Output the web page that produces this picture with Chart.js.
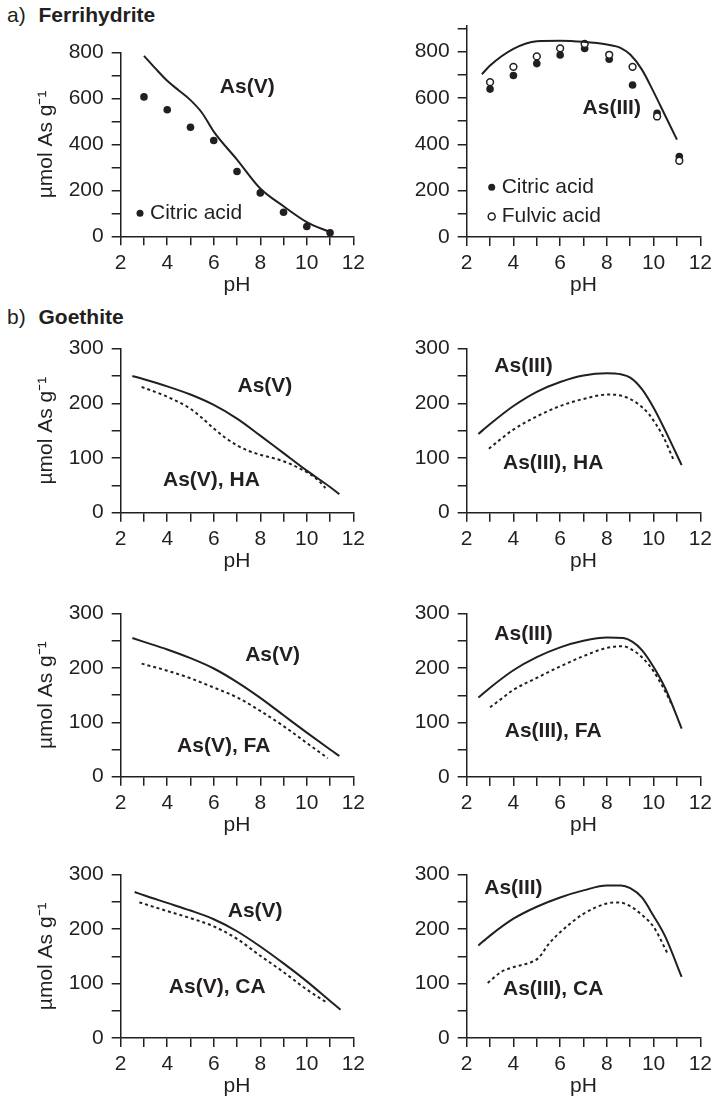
<!DOCTYPE html>
<html>
<head>
<meta charset="utf-8">
<script src="https://cdn.jsdelivr.net/npm/chart.js@4.4.1/dist/chart.umd.min.js"></script>
<style>
  body { margin: 0; background: #fff; width: 715px; height: 1101px; position: relative; overflow: hidden;
         font-family: 'Liberation Sans', Arial, sans-serif; color: #231f20; }
  canvas { position: absolute; }
  .head { position: absolute; font-size: 21px; line-height: 24px; white-space: nowrap; }
  .head b { margin-left: 7px; }
</style>
</head>
<body>
<div class="head" style="left:7px;top:3px">a) <b>Ferrihydrite</b></div>
<div class="head" style="left:7px;top:305px">b) <b>Goethite</b></div>
<script>
// axis ticks
const pHTicks = [2, 3, 4, 5, 6, 7, 8, 9, 10, 11, 12];
const pHLabels = [2, 4, 6, 8, 10, 12];
const yTicksFh = [0, 100, 200, 300, 400, 500, 600, 700, 800];
const yTicksFh3 = [0, 100, 200, 300, 400, 500, 600, 700, 800, 900];
const yLabelsFh = [0, 200, 400, 600, 800];
const yTicksGt = [0, 50, 100, 150, 200, 250, 300];
const yLabelsGt = [0, 100, 200, 300];

// a) ferrihydrite, As(V)
const phFhV = [3, 4, 5, 6, 7, 8, 9, 10, 11];
const fhVCitric = [607, 551, 475, 417, 282, 189, 105, 43, 15];
const phFhVModel = [3, 3.5, 4, 4.5, 5, 5.5, 6, 7, 8, 9, 10, 11];
const fhVModel = [786, 730, 677, 635, 593, 537, 456, 334, 208, 131, 62, 18];

// a) ferrihydrite, As(III)
const phFhIIICitric = [3, 4, 5, 6, 7.05, 8.1, 9.1, 10.15, 11.1];
const fhIIICitric = [638, 697, 748, 785, 813, 767, 656, 534, 347];
const phFhIIIFulvic = [3, 4, 5, 6, 7.05, 8.1, 9.1, 10.15, 11.1];
const fhIIIFulvic = [668, 734, 779, 814, 833, 786, 734, 520, 329];
const phFhIIIModel = [2.65, 3, 4, 5, 6, 7, 8, 8.6, 9, 9.5, 10, 10.5, 11];
const fhIIIModel = [702, 740, 812, 845, 847, 842, 830, 815, 787, 722, 626, 523, 420];

// b) goethite, humic acid
const phGtVHA = [2.5, 3, 4, 5, 6, 7, 8, 9, 10, 11, 11.4];
const gtVHA = [250, 244, 231, 216, 197, 172, 141, 109, 77, 47, 34];
const phGtVHAdot = [2.9, 4, 5, 5.5, 6, 6.5, 7, 7.5, 8, 9, 10, 10.5, 10.8];
const gtVHAdot = [230, 212, 190, 173, 154, 137, 123, 113, 106, 94, 74, 59, 45];
const phGtIIIHA = [2.5, 3, 4, 5, 6, 7, 8, 8.6, 9, 9.5, 10, 10.5, 11.2];
const gtIIIHA = [144, 162, 195, 221, 239, 251, 255, 253, 247, 226, 192, 150, 87];
const phGtIIIHAdot = [2.95, 3.5, 4, 5, 6, 7, 8, 8.7, 9.3, 9.8, 10.4, 10.85];
const gtIIIHAdot = [117, 136, 152, 176, 195, 208, 216, 213, 200, 180, 140, 97];

// b) goethite, fulvic acid
const phGtVFA = [2.5, 3, 4, 5, 6, 7, 8, 9, 10, 11, 11.4];
const gtVFA = [255, 248, 234, 218, 199, 174, 145, 113, 81, 50, 38];
const phGtVFAdot = [2.9, 4, 5, 6, 7, 8, 9, 10, 10.9];
const gtVFAdot = [208, 195, 181, 164, 146, 121, 93, 62, 34];
const phGtIIIFA = [2.5, 3, 4, 5, 6, 7, 8, 8.7, 9.1, 9.5, 10, 10.5, 11.2];
const gtIIIFA = [146, 164, 196, 220, 238, 250, 256, 255, 248, 233, 202, 163, 89];
const phGtIIIFAdot = [3, 3.5, 4, 5, 6, 7, 8, 8.7, 9.1, 9.5, 10, 10.4, 10.75];
const gtIIIFAdot = [128, 144, 160, 182, 203, 222, 237, 240, 233, 220, 194, 165, 136];

// b) goethite, citric acid
const phGtVCA = [2.6, 3, 4, 5, 6, 7, 8, 9, 10, 11, 11.45];
const gtVCA = [268, 262, 248, 234, 218, 196, 168, 137, 104, 68, 52];
const phGtVCAdot = [2.8, 4, 5, 6, 7, 8, 9, 10, 10.9];
const gtVCAdot = [249, 233, 220, 205, 182, 151, 121, 89, 64];
const phGtIIICA = [2.5, 3, 4, 5, 6, 7, 8, 8.6, 9, 9.5, 10, 10.5, 11.2];
const gtIIICA = [170, 188, 219, 241, 258, 271, 280, 280, 275, 258, 224, 186, 112];
const phGtIIICAdot = [2.9, 3.5, 4, 4.8, 5.1, 5.5, 6, 7, 8, 8.5, 9, 9.5, 10, 10.6];
const gtIIICAdot = [101, 122, 130, 140, 148, 172, 194, 228, 247, 249, 242, 226, 204, 155];

const INK = '#231f20';
const FONT = "'Liberation Sans', Arial, sans-serif";
Chart.defaults.font.family = FONT;
Chart.defaults.font.size = 21;
Chart.defaults.color = INK;

function pts(xs, ys) {
    return xs.map((x, i) => ({ x: x, y: ys[i] }));
}
function solid(xs, ys) {
    return { data: pts(xs, ys), showLine: true, pointRadius: 0, borderColor: INK, borderWidth: 2,
             cubicInterpolationMode: 'monotone' };
}
function dotted(xs, ys) {
    var d = solid(xs, ys);
    d.borderDash = [3, 3];
    return d;
}
function filled(xs, ys) {
    return { data: pts(xs, ys), showLine: false, pointRadius: 3.8, backgroundColor: INK, borderWidth: 0 };
}
function hollow(xs, ys) {
    return { data: pts(xs, ys), showLine: false, pointRadius: 3.4, backgroundColor: '#fff',
             borderColor: INK, borderWidth: 1.5 };
}

// text labels and legend marks, placed in data units
function notesPlugin(notes) {
    return {
        id: 'notes',
        afterDatasetsDraw: function (chart) {
            var ctx = chart.ctx, sx = chart.scales.x, sy = chart.scales.y;
            ctx.save();
            ctx.textBaseline = 'middle';
            notes.forEach(function (n) {
                var px = sx.getPixelForValue(n.x), py = sy.getPixelForValue(n.y);
                ctx.font = (n.bold ? 'bold ' : '') + '21px ' + FONT;
                ctx.fillStyle = INK;
                if (n.marker) {
                    ctx.beginPath();
                    ctx.arc(px, py, 3.5, 0, Math.PI * 2);
                    if (n.marker === 'filled') {
                        ctx.fill();
                    } else {
                        ctx.fillStyle = '#fff';
                        ctx.fill();
                        ctx.lineWidth = 1.5;
                        ctx.strokeStyle = INK;
                        ctx.stroke();
                        ctx.fillStyle = INK;
                    }
                    ctx.textAlign = 'left';
                    ctx.fillText(n.text, px + 10, py);
                } else {
                    ctx.textAlign = 'center';
                    ctx.fillText(n.text, px, py);
                }
            });
            ctx.restore();
        }
    };
}

function makePanel(p) {
    var l = p.area[0], r = p.area[1], t = p.area[2], b = p.area[3];
    var YW = p.yTitle ? 100 : 80, PT = 14, PR = 14, XH = 61;
    var cl = Math.round(l - YW), ct = Math.round(t - PT);
    var w = Math.ceil(r + PR - cl), h = Math.ceil(b + XH - ct);
    var cv = document.createElement('canvas');
    cv.width = w; cv.height = h;
    cv.style.left = cl + 'px'; cv.style.top = ct + 'px';
    cv.style.width = w + 'px'; cv.style.height = h + 'px';
    document.body.appendChild(cv);

    var axisGrid = { drawOnChartArea: false, drawTicks: true, tickLength: 9, color: INK, lineWidth: 1.5 };
    new Chart(cv, {
        type: 'scatter',
        data: { datasets: p.datasets },
        options: {
            responsive: false,
            animation: false,
            layout: { padding: { top: t - ct, right: cl + w - r, left: 0, bottom: 0 } },
            plugins: { legend: { display: false }, tooltip: { enabled: false } },
            scales: {
                x: {
                    type: 'linear', min: 2, max: 12,
                    afterFit: function (s) { s.height = ct + h - b; },
                    afterBuildTicks: function (s) { s.ticks = pHTicks.map(function (v) { return { value: v }; }); },
                    ticks: { autoSkip: false, maxRotation: 0, padding: 5,
                             callback: function (v) { return pHLabels.indexOf(v) >= 0 ? String(v) : ''; } },
                    grid: axisGrid,
                    border: { color: INK, width: 1.5 },
                    title: { display: true, text: 'pH', padding: 0 }
                },
                y: {
                    type: 'linear', min: 0, max: p.yMax,
                    afterFit: function (s) { s.width = l - cl; },
                    afterBuildTicks: function (s) { s.ticks = p.yTicks.map(function (v) { return { value: v }; }); },
                    ticks: { autoSkip: false, padding: 8,
                             callback: function (v) { return p.yLabels.indexOf(v) >= 0 ? String(v) : ''; } },
                    grid: axisGrid,
                    border: { color: INK, width: 1.5 },
                    title: { display: !!p.yTitle, text: 'µmol As g⁻¹', padding: { top: 13, bottom: 0 } }
                }
            }
        },
        plugins: [notesPlugin(p.notes)]
    });
}

makePanel({
    area: [120.7, 355.4, 45.7, 236.3], yMax: 800, yTicks: yTicksFh, yLabels: yLabelsFh, yTitle: true,
    datasets: [solid(phFhVModel, fhVModel), filled(phFhV, fhVCitric)],
    notes: [{ x: 7.44, y: 649, text: 'As(V)', bold: true },
            { x: 2.83, y: 100, text: 'Citric acid', marker: 'filled' }]
});
makePanel({
    area: [466.7, 702.7, 19, 237], yMax: 912, yTicks: yTicksFh3, yLabels: yLabelsFh,
    datasets: [solid(phFhIIIModel, fhIIIModel), hollow(phFhIIIFulvic, fhIIIFulvic), filled(phFhIIICitric, fhIIICitric)],
    notes: [{ x: 8.21, y: 555, text: 'As(III)', bold: true },
            { x: 3.07, y: 215, text: 'Citric acid', marker: 'filled' },
            { x: 3.07, y: 88, text: 'Fulvic acid', marker: 'open' }]
});
makePanel({
    area: [120.7, 355.8, 342.3, 512.7], yMax: 300, yTicks: yTicksGt, yLabels: yLabelsGt, yTitle: true,
    datasets: [solid(phGtVHA, gtVHA), dotted(phGtVHAdot, gtVHAdot)],
    notes: [{ x: 8.2, y: 231, text: 'As(V)', bold: true },
            { x: 5.9, y: 59, text: 'As(V), HA', bold: true }]
});
makePanel({
    area: [466.7, 702.7, 342.3, 512.7], yMax: 300, yTicks: yTicksGt, yLabels: yLabelsGt,
    datasets: [solid(phGtIIIHA, gtIIIHA), dotted(phGtIIIHAdot, gtIIIHAdot)],
    notes: [{ x: 4.43, y: 267, text: 'As(III)', bold: true },
            { x: 5.7, y: 90, text: 'As(III), HA', bold: true }]
});
makePanel({
    area: [120.7, 355.8, 606.7, 776.7], yMax: 300, yTicks: yTicksGt, yLabels: yLabelsGt, yTitle: true,
    datasets: [solid(phGtVFA, gtVFA), dotted(phGtVFAdot, gtVFAdot)],
    notes: [{ x: 8.53, y: 224, text: 'As(V)', bold: true },
            { x: 6.43, y: 56, text: 'As(V), FA', bold: true }]
});
makePanel({
    area: [466.7, 702.7, 606.7, 777], yMax: 300, yTicks: yTicksGt, yLabels: yLabelsGt,
    datasets: [solid(phGtIIIFA, gtIIIFA), dotted(phGtIIIFAdot, gtIIIFAdot)],
    notes: [{ x: 4.43, y: 263, text: 'As(III)', bold: true },
            { x: 5.7, y: 84, text: 'As(III), FA', bold: true }]
});
makePanel({
    area: [120.7, 355.8, 867.7, 1038], yMax: 300, yTicks: yTicksGt, yLabels: yLabelsGt, yTitle: true,
    datasets: [solid(phGtVCA, gtVCA), dotted(phGtVCAdot, gtVCAdot)],
    notes: [{ x: 7.78, y: 233, text: 'As(V)', bold: true },
            { x: 6.15, y: 93, text: 'As(V), CA', bold: true }]
});
makePanel({
    area: [466.7, 702.7, 867.7, 1038], yMax: 300, yTicks: yTicksGt, yLabels: yLabelsGt,
    datasets: [solid(phGtIIICA, gtIIICA), dotted(phGtIIICAdot, gtIIICAdot)],
    notes: [{ x: 4.0, y: 275, text: 'As(III)', bold: true },
            { x: 5.7, y: 90, text: 'As(III), CA', bold: true }]
});
</script>
</body>
</html>
